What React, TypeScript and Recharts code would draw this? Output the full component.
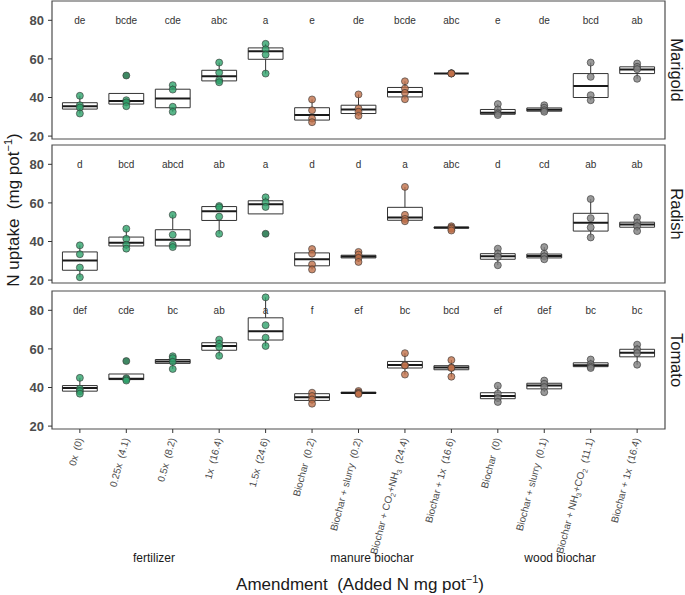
import React from "react";
import {
  ComposedChart,
  XAxis,
  YAxis,
  Scatter,
  ReferenceArea,
  ReferenceLine,
} from "recharts";

// x categories, "_n" marks a subscript digit
const CATEGORIES = [
  "0x  (0)",
  "0.25x  (4.1)",
  "0.5x  (8.2)",
  "1x  (16.4)",
  "1.5x  (24.6)",
  "Biochar  (0.2)",
  "Biochar + slurry  (0.2)",
  "Biochar + CO_2+NH_3  (24.4)",
  "Biochar + 1x  (16.6)",
  "Biochar  (0)",
  "Biochar + slurry  (0.1)",
  "Biochar + NH_3+CO_2  (11.1)",
  "Biochar + 1x  (16.4)",
];
const GROUP_OF = [0, 0, 0, 0, 0, 1, 1, 1, 1, 2, 2, 2, 2];
const GROUP_NAMES = ["fertilizer", "manure biochar", "wood biochar"];
const Y_TICKS = [20, 40, 60, 80];
const X_TICKS = [1, 2, 3, 4, 5, 6, 7, 8, 9, 10, 11, 12, 13];

// box stats: [lower whisker, q1, median, q3, upper whisker]
const MARIGOLD_BOX = [
  [31.7, 34.0, 35.5, 37.3, 40.9],
  [35.5, 36.6, 38.2, 42.1, 42.1],
  [32.6, 34.7, 39.5, 44.3, 46.4],
  [47.9, 48.6, 51.0, 54.1, 58.1],
  [52.4, 59.8, 64.0, 65.7, 67.8],
  [27.2, 28.3, 30.9, 34.7, 39.0],
  [30.5, 31.7, 33.8, 36.0, 41.6],
  [39.1, 40.3, 42.8, 45.2, 48.4],
  [52.4, 52.5, 52.5, 52.5, 52.6],
  [30.9, 31.3, 32.1, 33.8, 36.6],
  [32.6, 32.9, 33.6, 34.6, 36.0],
  [38.6, 40.0, 45.9, 52.4, 58.1],
  [49.7, 52.4, 54.5, 55.9, 57.6],
];
const MARIGOLD_POINTS = [
  [40.9, 36.0, 34.8, 31.7],
  [51.4, 38.6, 37.5, 35.5],
  [46.4, 44.1, 35.2, 32.6],
  [58.1, 52.9, 49.0, 47.9],
  [67.8, 65.0, 62.2, 52.4],
  [39.0, 33.4, 29.1, 27.2],
  [41.6, 34.3, 32.6, 30.5],
  [48.4, 44.7, 42.4, 39.1],
  [52.6, 52.5, 52.5, 52.4],
  [36.6, 33.8, 31.7, 30.9],
  [36.0, 34.7, 33.4, 32.6],
  [58.1, 50.7, 41.2, 38.6],
  [57.6, 55.9, 54.7, 49.7],
];
const MARIGOLD_LETTERS = ["de", "bcde", "cde", "abc", "a", "e", "de", "bcde", "abc", "e", "de", "bcd", "ab"];

const RADISH_BOX = [
  [21.5, 25.1, 30.1, 34.6, 38.0],
  [36.3, 37.7, 39.4, 42.3, 46.6],
  [37.1, 37.7, 40.9, 46.1, 53.8],
  [44.0, 50.9, 55.7, 58.1, 58.4],
  [54.3, 54.3, 59.3, 61.1, 62.9],
  [25.5, 27.4, 30.8, 34.1, 36.1],
  [29.4, 31.5, 32.2, 32.9, 34.6],
  [50.5, 51.0, 52.5, 57.7, 68.3],
  [45.7, 46.9, 47.2, 47.4, 47.9],
  [27.7, 30.8, 32.3, 33.7, 36.3],
  [30.8, 31.5, 32.5, 33.5, 37.1],
  [42.1, 45.4, 49.7, 54.6, 62.0],
  [45.4, 47.4, 48.8, 50.0, 52.4],
];
const RADISH_POINTS = [
  [38.0, 33.4, 26.5, 21.5],
  [46.6, 41.4, 38.3, 36.3],
  [53.8, 43.5, 38.3, 37.1],
  [58.4, 57.7, 52.9, 44.0],
  [62.9, 60.3, 57.9, 44.0],
  [36.1, 33.7, 28.1, 25.5],
  [34.6, 33.2, 31.5, 29.4],
  [68.3, 53.8, 51.7, 50.5],
  [47.9, 47.2, 46.6, 45.7],
  [36.3, 33.7, 32.0, 27.7],
  [37.1, 33.7, 32.3, 30.8],
  [62.0, 52.1, 47.3, 42.1],
  [52.4, 49.7, 47.9, 45.4],
];
const RADISH_LETTERS = ["d", "bcd", "abcd", "ab", "a", "d", "d", "a", "abc", "d", "cd", "ab", "ab"];

const TOMATO_BOX = [
  [36.8, 38.1, 39.7, 41.0, 45.0],
  [43.6, 44.1, 44.6, 47.0, 47.0],
  [49.6, 52.5, 53.5, 54.5, 56.2],
  [56.4, 59.3, 61.5, 63.2, 64.8],
  [61.5, 64.6, 69.2, 76.1, 86.7],
  [31.6, 33.3, 35.0, 36.8, 37.3],
  [36.6, 36.9, 37.2, 37.6, 38.2],
  [46.7, 50.1, 51.6, 53.5, 57.8],
  [45.6, 49.2, 50.3, 51.3, 54.2],
  [32.5, 34.2, 35.6, 37.3, 40.9],
  [37.6, 39.3, 41.0, 42.2, 43.6],
  [50.1, 50.8, 51.5, 52.8, 54.5],
  [51.8, 55.9, 58.0, 59.8, 62.2],
];
const TOMATO_POINTS = [
  [45.0, 39.3, 38.1, 36.8],
  [53.7, 44.8, 44.3, 43.6],
  [56.2, 55.2, 53.3, 49.6],
  [64.8, 62.7, 61.0, 56.4],
  [86.7, 72.3, 65.8, 61.5],
  [37.3, 35.6, 33.8, 31.6],
  [38.2, 37.4, 37.0, 36.6],
  [57.8, 51.6, 51.4, 46.7],
  [54.2, 50.4, 50.1, 45.6],
  [40.9, 36.8, 34.5, 32.5],
  [43.6, 41.9, 40.2, 37.6],
  [54.5, 52.1, 50.8, 50.1],
  [62.2, 59.8, 57.8, 51.8],
];
const TOMATO_LETTERS = ["def", "cde", "bc", "ab", "a", "f", "ef", "bc", "bcd", "ef", "def", "bc", "bc"];

const GROUP_FILL = ["#2fa36b", "#c0714a", "#808080"];
const OUTLIER_FILL = ["#0f6a3c", "#7a3b1f", "#404040"];

const FONT = "'Liberation Sans', Arial, Helvetica, sans-serif";
const CHART_W = 685;
const PLOT_H = 138;
const X_DOMAIN: [number, number] = [0.4, 13.6];
const Y_DOMAIN: [number, number] = [18.5, 90];
const HALF_BOX = 0.375;

function labelParts(label: string) {
  const parts = label.split(/_(\d)/);
  const out: React.ReactNode[] = [];
  let shifted = false;
  parts.forEach((p, k) => {
    if (k % 2 === 1) {
      out.push(
        <tspan key={k} dy={2.5} fontSize={7}>
          {p}
        </tspan>
      );
      shifted = true;
    } else if (p) {
      out.push(
        <tspan key={k} dy={shifted ? -2.5 : 0}>
          {p}
        </tspan>
      );
      shifted = false;
    }
  });
  return out;
}

function XTick(props: any) {
  const { x, y, payload } = props;
  const label = CATEGORIES[payload.value - 1];
  return (
    <g transform={`translate(${x + 3},${y})`}>
      <text
        transform="rotate(-75)"
        textAnchor="end"
        dy="0.35em"
        fontSize={10}
        fill="#4d4d4d"
        style={{ whiteSpace: "pre" }}
      >
        {labelParts(label)}
      </text>
    </g>
  );
}

function PointShape(props: any) {
  const { cx, cy, payload } = props;
  return (
    <circle
      cx={cx}
      cy={cy}
      r={3.5}
      fill={payload.outlier ? OUTLIER_FILL[payload.group] : GROUP_FILL[payload.group]}
      fillOpacity={0.8}
      stroke="#333"
      strokeWidth={0.6}
    />
  );
}

function LetterShape(props: any) {
  const { cx, cy, payload } = props;
  return (
    <text x={cx} y={cy} dy={3.5} textAnchor="middle" fontSize={10} fill="#333">
      {payload.label}
    </text>
  );
}

interface PanelProps {
  box: number[][];
  points: number[][];
  letters: string[];
  top: number;
  showX?: boolean;
}

function Panel({ box, points, letters, top, showX }: PanelProps) {
  const pointData = points.flatMap((vals, i) =>
    vals.map((v) => ({
      x: i + 1,
      y: v,
      group: GROUP_OF[i],
      outlier: v < box[i][0] - 0.05 || v > box[i][4] + 0.05,
    }))
  );
  const letterData = letters.map((l, i) => ({ x: i + 1, y: 80, label: l }));
  const xAxisH = showX ? 166 : 0;
  const bottom = showX ? 0 : 8;
  const height = 2 + PLOT_H + xAxisH + bottom;

  return (
    <div style={{ position: "absolute", left: 0, top: top - 2 }}>
      <ComposedChart
        width={CHART_W}
        height={height}
        margin={{ top: 2, right: 20, bottom, left: 0 }}
      >
        <XAxis
          type="number"
          dataKey="x"
          domain={X_DOMAIN}
          ticks={X_TICKS}
          allowDataOverflow
          hide={!showX}
          height={xAxisH}
          axisLine={false}
          tickLine={{ stroke: "#333" }}
          tickSize={4}
          tickMargin={6}
          interval={0}
          tick={<XTick />}
        />
        <YAxis
          type="number"
          dataKey="y"
          domain={Y_DOMAIN}
          ticks={Y_TICKS}
          allowDataOverflow
          width={52}
          axisLine={false}
          tickLine={{ stroke: "#333" }}
          tickSize={4}
          tickMargin={4}
          tick={{ fontSize: 13, fontWeight: "bold", fill: "#4d4d4d" }}
        />
        <ReferenceArea
          x1={X_DOMAIN[0]}
          x2={X_DOMAIN[1]}
          y1={Y_DOMAIN[0]}
          y2={Y_DOMAIN[1]}
          fill="none"
          stroke="#4d4d4d"
          strokeWidth={1.2}
          ifOverflow="visible"
        />
        <Scatter data={pointData} shape={<PointShape />} isAnimationActive={false} />
        {box.map(([lo, q1, med, q3, hi], i) => {
          const c = i + 1;
          return (
            <React.Fragment key={i}>
              {lo < q1 && (
                <ReferenceLine
                  segment={[{ x: c, y: lo }, { x: c, y: q1 }]}
                  stroke="#333"
                  strokeWidth={1}
                  ifOverflow="visible"
                />
              )}
              {hi > q3 && (
                <ReferenceLine
                  segment={[{ x: c, y: q3 }, { x: c, y: hi }]}
                  stroke="#333"
                  strokeWidth={1}
                  ifOverflow="visible"
                />
              )}
              <ReferenceArea
                x1={c - HALF_BOX}
                x2={c + HALF_BOX}
                y1={q1}
                y2={q3}
                fill="#ffffff"
                fillOpacity={0.35}
                stroke="#333"
                strokeWidth={1}
                ifOverflow="visible"
              />
              <ReferenceLine
                segment={[{ x: c - HALF_BOX, y: med }, { x: c + HALF_BOX, y: med }]}
                stroke="#1a1a1a"
                strokeWidth={2}
                ifOverflow="visible"
              />
            </React.Fragment>
          );
        })}
        <Scatter data={letterData} shape={<LetterShape />} isAnimationActive={false} />
      </ComposedChart>
    </div>
  );
}

export default function App() {
  return (
    <div
      style={{
        position: "absolute",
        left: 0,
        top: 0,
        width: 685,
        height: 595,
        background: "#fff",
        fontFamily: FONT,
        overflow: "hidden",
      }}
    >
      <Panel box={MARIGOLD_BOX} points={MARIGOLD_POINTS} letters={MARIGOLD_LETTERS} top={1} />
      <Panel box={RADISH_BOX} points={RADISH_POINTS} letters={RADISH_LETTERS} top={145} />
      <Panel box={TOMATO_BOX} points={TOMATO_POINTS} letters={TOMATO_LETTERS} top={291} showX />
      <svg
        width={685}
        height={595}
        style={{ position: "absolute", left: 0, top: 0, pointerEvents: "none" }}
        fontFamily={FONT}
      >
        {[
          ["Marigold", 70],
          ["Radish", 214],
          ["Tomato", 360],
        ].map(([name, cy]) => (
          <text
            key={name as string}
            transform={`translate(677,${cy}) rotate(90)`}
            textAnchor="middle"
            dominantBaseline="central"
            fontSize={16.5}
            fill="#1a1a1a"
          >
            {name}
          </text>
        ))}
        {GROUP_NAMES.map((g, k) => (
          <text key={g} x={[154, 372, 560][k]} y={562} textAnchor="middle" fontSize={12} fill="#1a1a1a">
            {g}
          </text>
        ))}
        <text x={360} y={590} textAnchor="middle" fontSize={17} fill="#1a1a1a" style={{ whiteSpace: "pre" }}>
          Amendment  (Added N mg pot
          <tspan dy={-7} fontSize={11}>
            −1
          </tspan>
          <tspan dy={7}>)</tspan>
        </text>
        <text
          transform="translate(19,210) rotate(-90)"
          textAnchor="middle"
          fontSize={17}
          fill="#1a1a1a"
          style={{ whiteSpace: "pre" }}
        >
          N uptake  (mg pot
          <tspan dy={-7} fontSize={11}>
            −1
          </tspan>
          <tspan dy={7}>)</tspan>
        </text>
      </svg>
    </div>
  );
}
